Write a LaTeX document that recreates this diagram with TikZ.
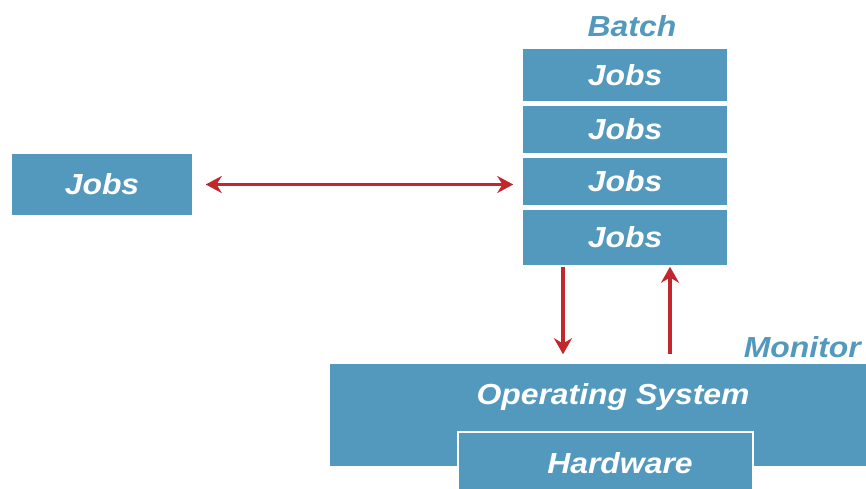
\documentclass[tikz,border=0pt]{standalone}
\usepackage{fontspec}
\setmainfont{Liberation Sans}[FakeStretch=1.1]
\usetikzlibrary{arrows.meta}
\definecolor{boxblue}{HTML}{5299BD}
\definecolor{arrred}{HTML}{C1272D}
\begin{document}
\begin{tikzpicture}[x=1pt,y=-1pt,
  box/.style={fill=boxblue,draw=white,line width=1.5pt,inner sep=0pt,text=white,
    font=\fontsize{29}{32}\selectfont\bfseries\itshape},
  lbl/.style={text=boxblue,inner sep=0pt,font=\fontsize{29}{32}\selectfont\bfseries\itshape},
  txt/.style={text=white,inner sep=0pt,font=\fontsize{29}{32}\selectfont\bfseries\itshape},
  conn/.style={draw=arrred,line width=2.6pt,{Stealth[length=16pt,width=17pt]}-{Stealth[length=16pt,width=17pt]}},
  one/.style={draw=arrred,line width=3.2pt,-{Stealth[length=16pt,width=18pt]}}]
\useasboundingbox (0,0) rectangle (866,489);
\node[box,minimum width=182pt,minimum height=63pt] (jobs) at (102,184.5) {Jobs};
\node[lbl] (batch) at (632,26) {Batch};
\node[box,minimum width=206pt,minimum height=54pt] (b1) at (625,75) {Jobs};
\node[box,minimum width=206pt,minimum height=49pt] (b2) at (625,129.5) {Jobs};
\node[box,minimum width=206pt,minimum height=49pt] (b3) at (625,181.5) {Jobs};
\node[box,minimum width=206pt,minimum height=57pt] (b4) at (625,237.5) {Jobs};
\node[box,draw=none,minimum width=540pt,minimum height=102pt] (os) at (600,415) {};
\node[txt] (ostext) at (613,397) {Operating System};
\node[box,minimum width=295pt,minimum height=70pt] (hw) at (605.5,467) {};
\node[txt] (hwtext) at (620,463) {Hardware};
\node[lbl,anchor=east] (monitor) at (861,347) {Monitor};
\coordinate (dx) at (563,0);
\coordinate (ux) at (670,0);
\draw[conn,shorten <=12pt,shorten >=8pt] (jobs.east) -- (jobs.east -| b3.west);
\draw[one,shorten >=9pt] (dx |- b4.south) -- (dx |- os.north);
\draw[one,shorten <=9pt] (ux |- os.north) -- (ux |- b4.south);
\end{tikzpicture}
\end{document}
